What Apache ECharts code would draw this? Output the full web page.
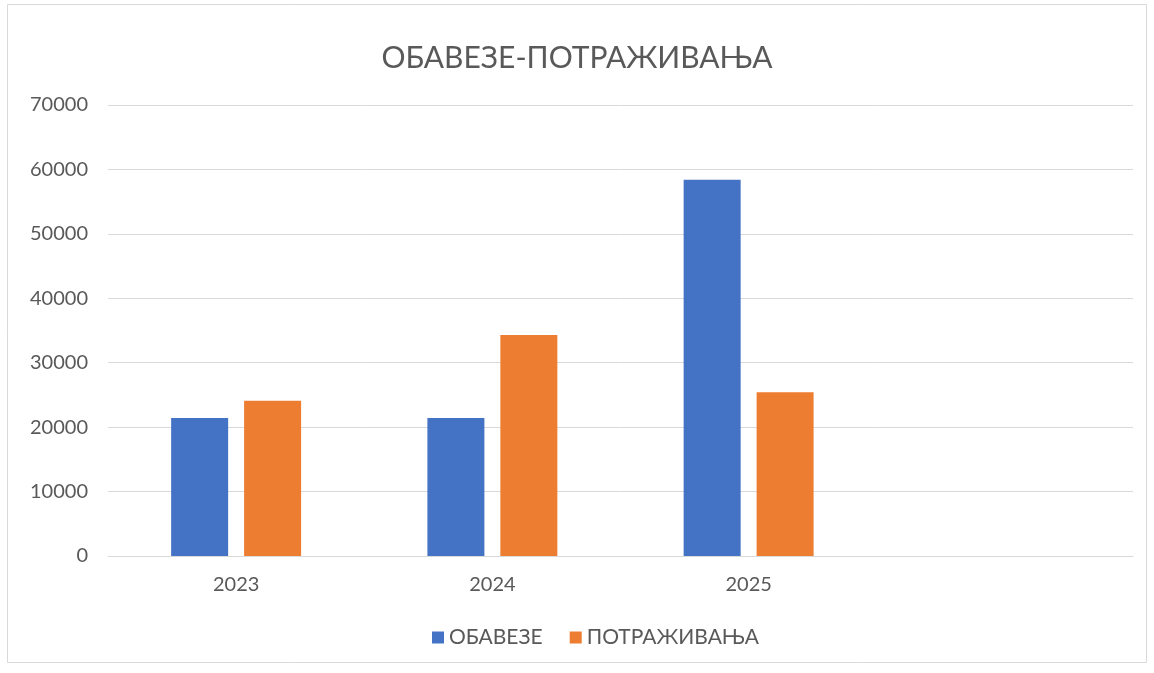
<!DOCTYPE html>
<html>
<head>
<meta charset="utf-8">
<script src="https://cdn.jsdelivr.net/npm/echarts@6/dist/echarts.min.js"></script>
<style>
  html, body { margin: 0; padding: 0; background: #fff; }
  #main { width: 1154px; height: 673px; }
</style>
</head>
<body>
<div id="main"></div>
<script>
var years = ['2023', '2024', '2025', ''];
var obaveze = [21400, 21400, 58400];
var potrazivanja = [24100, 34300, 25400];
var yTicks = { min: 0, max: 70000, interval: 10000 };

function drawChart() {
    var myChart = echarts.init(document.getElementById('main'));
    var font = 'Lato, "Open Sans", sans-serif';

    var option = {
        backgroundColor: '#ffffff',
        textStyle: { fontFamily: font },
        graphic: [{
            type: 'rect',
            shape: { x: 7.5, y: 4.5, width: 1139, height: 658 },
            style: { fill: 'none', stroke: '#d9d9d9', lineWidth: 1 },
            silent: true
        }],
        title: {
            text: 'ОБАВЕЗЕ-ПОТРАЖИВАЊА',
            left: 'center',
            top: 38,
            textStyle: { fontFamily: font, fontSize: 30, fontWeight: 'normal', color: '#595959' }
        },
        legend: {
            data: ['ОБАВЕЗЕ', 'ПОТРАЖИВАЊА'],
            bottom: 20,
            left: 427,
            icon: 'rect',
            itemWidth: 12,
            itemHeight: 12,
            itemGap: 27,
            textStyle: { fontFamily: font, fontSize: 21, color: '#595959' }
        },
        grid: { left: 108, right: 21, top: 105, bottom: 117, containLabel: false },
        xAxis: {
            type: 'category',
            data: years,
            axisLine: { lineStyle: { color: '#d9d9d9' } },
            axisTick: { show: false },
            axisLabel: { fontFamily: font, fontSize: 20, color: '#595959', margin: 19 }
        },
        yAxis: {
            type: 'value',
            min: yTicks.min,
            max: yTicks.max,
            interval: yTicks.interval,
            axisLine: { show: false },
            axisTick: { show: false },
            splitLine: { lineStyle: { color: '#d9d9d9', width: 1 } },
            axisLabel: {
                fontFamily: font, fontSize: 20, color: '#595959', margin: 20,
                formatter: function (v) { return String(v); }
            }
        },
        series: [
            {
                name: 'ОБАВЕЗЕ',
                type: 'bar',
                data: obaveze,
                barWidth: 57,
                barGap: '28%',
                itemStyle: { color: '#4472c4' }
            },
            {
                name: 'ПОТРАЖИВАЊА',
                type: 'bar',
                data: potrazivanja,
                barWidth: 57,
                barGap: '28%',
                itemStyle: { color: '#ed7d31' }
            }
        ]
    };

    myChart.setOption(option);
}

drawChart();
</script>
</body>
</html>
